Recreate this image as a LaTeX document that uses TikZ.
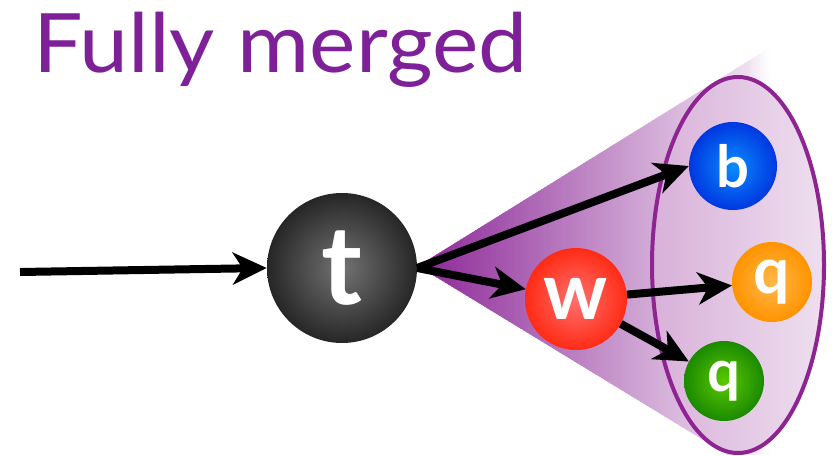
\documentclass[tikz,border=0pt]{standalone}
\usepackage{fontspec}
\setmainfont{Lato}
\usetikzlibrary{arrows.meta,shadings}
\definecolor{titlepurple}{HTML}{7E2198}
\definecolor{cA}{HTML}{8C2797}
\definecolor{cC}{HTML}{C48CC6}
\definecolor{cD}{HTML}{D9B2DA}
\definecolor{cE}{HTML}{EEDFEF}
\definecolor{ringpurple}{HTML}{8E2492}
\tikzset{
  ball/.style={circle, inner sep=0pt, text=white, font=\bfseries},
  arr/.style={line width=8pt, -{Stealth[length=34pt, width=32pt, inset=10pt]}},
}
\begin{document}
\begin{tikzpicture}[x=1pt, y=-1pt]
\useasboundingbox (0,0) rectangle (834,455);
% cone (horizontal fade built from thin slices)
\begin{scope}
\clip (418,266) -- (800,29) -- (800,499) -- cycle;
\foreach \x in {418,421,...,790} {
  \pgfmathsetmacro\p{100*((\x<600) ? (1-0.48*(\x-418)/182) : ((\x<745) ? (0.52-0.37*(\x-600)/145) : max(0,0.15-0.15*(\x-745)/22)))}
  \fill[cA!\p!white] (\x,0) rectangle (\x+3.6,455);
}
\end{scope}
% jet ellipse
\draw[ringpurple, line width=4pt, left color=cD!95!cC, right color=cE] (738,265) ellipse [x radius=86, y radius=188];
% title
\node[anchor=base west, text=titlepurple, font=\fontsize{82}{82}\selectfont, inner sep=0pt] (title) at (33,72) {\scalebox{1.07}[1]{Fully merged}};
% particles
\node[ball, minimum size=150pt, inner color=black!55, outer color=black!85, font=\bfseries\fontsize{110}{110}\selectfont] (t) at (342,268) {t};
\node[ball, minimum size=102pt, inner color=red!45!white!80!red, outer color={rgb,255:red,255;green,43;blue,20}, font=\bfseries\fontsize{80}{80}\selectfont] (w) at (576,299) {w};
\node[ball, minimum size=88pt, inner color={rgb,255:red,10;green,140;blue,255}, outer color={rgb,255:red,0;green,55;blue,224}, font=\bfseries\fontsize{58}{58}\selectfont] (b) at (733,166) {b};
\node[ball, minimum size=80pt, inner color={rgb,255:red,255;green,184;blue,74}, outer color={rgb,255:red,255;green,147;blue,0}, font=\bfseries\fontsize{64}{64}\selectfont] (q1) at (772,282) {q};
\node[ball, minimum size=80pt, inner color={rgb,255:red,91;green,200;blue,0}, outer color={rgb,255:red,26;green,138;blue,0}, font=\bfseries\fontsize{58}{58}\selectfont] (q2) at (724,381) {q};
% arrows
\coordinate (in) at (20,272);
\draw[arr] (in) -- (t.west);
\draw[arr] (t.east) -- (b.west);
\draw[arr] (t.east) -- (w);
\draw[arr] (w) -- (q1);
\draw[arr] (w) -- (q2);
\end{tikzpicture}
\end{document}
